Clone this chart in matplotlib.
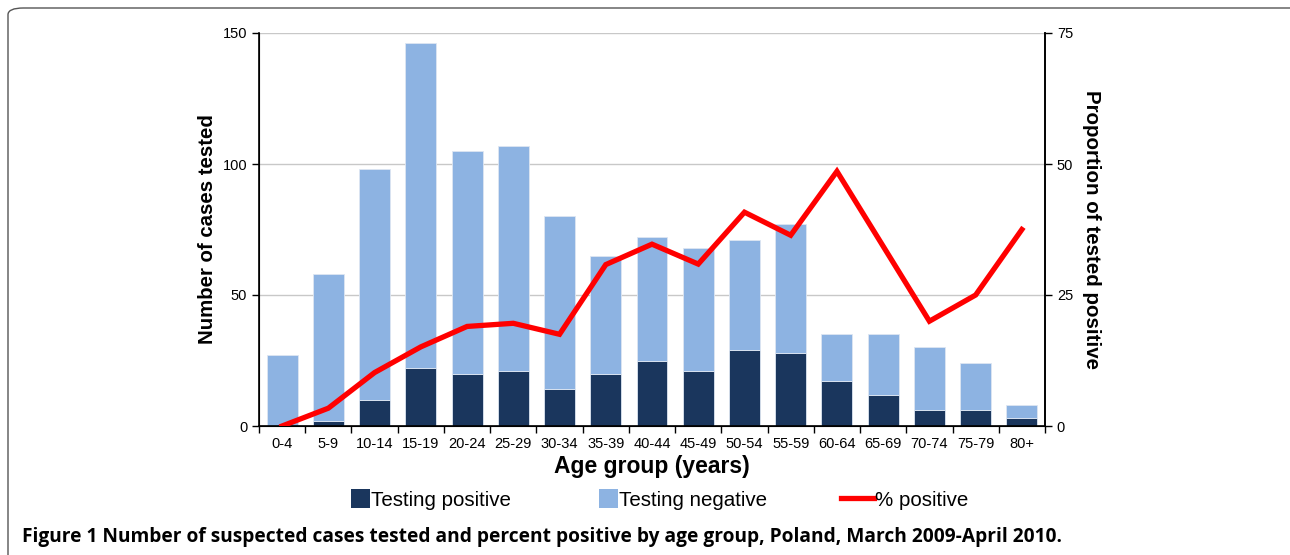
"""
Suspected cases tested and percent positive by age group, Poland.
"""

import numpy as np
import matplotlib.pyplot as plt
from matplotlib.patches import FancyBboxPatch, Rectangle
from matplotlib.lines import Line2D
from matplotlib.legend_handler import HandlerPatch

age_groups = ["0-4", "5-9", "10-14", "15-19", "20-24", "25-29", "30-34",
              "35-39", "40-44", "45-49", "50-54", "55-59", "60-64",
              "65-69", "70-74", "75-79", "80+"]
positive = [0, 2, 10, 22, 20, 21, 14, 20, 25, 21, 29, 28, 17, 12, 6, 6, 3]
negative = [27, 56, 88, 124, 85, 86, 66, 45, 47, 47, 42, 49, 18, 23, 24, 18, 5]
pct_positive = [0, 3.4, 10.2, 15.1, 19.0, 19.6, 17.5, 30.8, 34.7, 30.9,
                40.8, 36.4, 48.6, 34.3, 20.0, 25.0, 37.5]

DARK = "#1a365d"
LIGHT = "#8db3e2"
RED = "#ff0000"

plt.rcParams["font.family"] = ["Liberation Sans", "DejaVu Sans"]


def square_patch(legend, orig_handle, xdescent, ydescent, width, height, fontsize):
    # Square swatch pushed to the right end of the handle box, like Excel.
    side = height * 1.35
    return Rectangle((width - side - xdescent, -ydescent - (side - height) / 2),
                     side, side)


fig = plt.figure(figsize=(12.9, 5.55), dpi=100)
ax = fig.add_axes([259 / 1290, 1 - 426 / 555, (1045 - 259) / 1290, (426 - 33) / 555])

x = np.arange(len(age_groups))
ax.bar(x, positive, width=0.67, color=DARK, edgecolor="#dde6f2",
       linewidth=0.6, zorder=2)
ax.bar(x, negative, width=0.67, bottom=positive, color=LIGHT,
       edgecolor="#dde6f2", linewidth=0.6, zorder=2)

ax.set_xlim(-0.5, len(age_groups) - 0.5)
ax.set_ylim(0, 150)
ax.set_yticks([0, 50, 100, 150])
ax.yaxis.grid(True, color="#c8c8c8", linewidth=1)
ax.set_axisbelow(True)

ax.set_xticks(x)
ax.set_xticklabels(age_groups)
ax.set_xticks(np.arange(-0.5, len(age_groups), 1), minor=True)
ax.tick_params(axis="x", which="major", length=0, pad=8, labelsize=10.5)
ax.tick_params(axis="x", which="minor", length=5, width=1)
ax.tick_params(axis="y", length=5, width=1, labelsize=10.5)

ax.spines["top"].set_visible(False)
for side in ("left", "bottom", "right"):
    ax.spines[side].set_linewidth(1.2)

ax.set_ylabel("Number of cases tested", fontsize=14.7, fontweight="bold", labelpad=4)
ax.set_xlabel("Age group (years)", fontsize=16.5, fontweight="bold", labelpad=3)

ax2 = ax.twinx()
ax2.plot(x, pct_positive, color=RED, linewidth=3.8,
         solid_joinstyle="miter", zorder=3)
ax2.set_ylim(0, 75)
ax2.set_yticks([0, 25, 50, 75])
ax2.tick_params(axis="y", length=5, width=1, labelsize=10.5)
ax2.spines["top"].set_visible(False)
ax2.spines["right"].set_linewidth(1.2)
ax2.set_ylabel("Proportion of tested positive", fontsize=14.8,
               fontweight="bold", rotation=-90, labelpad=20)

handles = [Rectangle((0, 0), 1, 1, facecolor=DARK),
           Rectangle((0, 0), 1, 1, facecolor=LIGHT),
           Line2D([], [], color=RED, linewidth=3.8)]
labels = ["Testing positive", "Testing negative", "% positive"]
fig.legend(handles, labels, loc="center", bbox_to_anchor=(0.506, 1 - 500 / 555),
           ncol=3, frameon=False, fontsize=14.8, handlelength=1.6,
           handleheight=0.7, handletextpad=0.05, columnspacing=3.6,
           handler_map={Rectangle: HandlerPatch(patch_func=square_patch)})

fig.text(22 / 1290, 1 - 537 / 555, "Figure 1 Number of suspected cases tested "
         "and percent positive by age group, Poland, March 2009-April 2010.",
         fontsize=13.8, fontweight="bold", family=["Open Sans", "DejaVu Sans"],
         va="center", ha="left")

frame = FancyBboxPatch((8 / 1290, -0.05), 1.1, 1.05 - 8 / 555,
                       boxstyle="round,pad=0,rounding_size=0.012",
                       transform=fig.transFigure, fill=False,
                       edgecolor="#555555", linewidth=1.0)
fig.patches.append(frame)

fig.savefig("out.png", dpi=100)
